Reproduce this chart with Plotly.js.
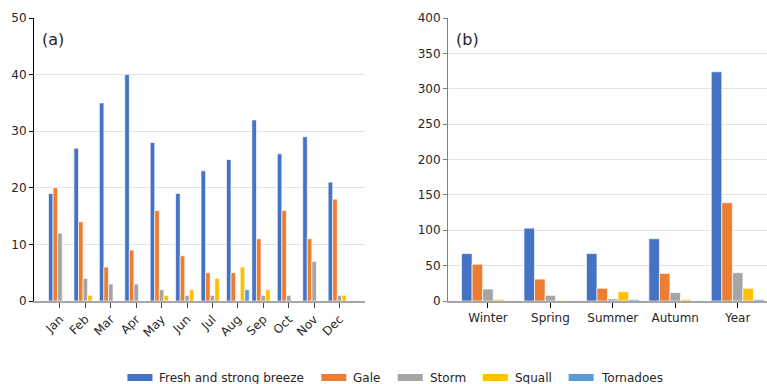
<!DOCTYPE html>
<html>
<head>
<meta charset="utf-8">
<script src="https://cdn.plot.ly/plotly-3.0.1.min.js"></script>
<style>
  html, body { margin: 0; padding: 0; background: #fff; }
  #chart { width: 767px; height: 384px; }
</style>
</head>
<body>
<div id="chart"></div>
<script>
// Monthly counts of wind events (panel a)
const months = ['Jan', 'Feb', 'Mar', 'Apr', 'May', 'Jun', 'Jul', 'Aug', 'Sep', 'Oct', 'Nov', 'Dec'];
const breezeMonthly  = [19, 27, 35, 40, 28, 19, 23, 25, 32, 26, 29, 21];
const galeMonthly    = [20, 14, 6, 9, 16, 8, 5, 5, 11, 16, 11, 18];
const stormMonthly   = [12, 4, 3, 3, 2, 1, 1, 0, 1, 1, 7, 1];
const squallMonthly  = [0, 1, 0, 0, 1, 2, 4, 6, 2, 0, 0, 1];
const tornadoMonthly = [0, 0, 0, 0, 0, 0, 0, 2, 0, 0, 0, 0];

// Seasonal and annual totals (panel b)
const seasons = ['Winter', 'Spring', 'Summer', 'Autumn', 'Year'];
const breezeSeasonal  = [67, 103, 67, 88, 324];
const galeSeasonal    = [52, 31, 18, 39, 139];
const stormSeasonal   = [17, 8, 3, 12, 40];
const squallSeasonal  = [2, 1, 13, 2, 18];
const tornadoSeasonal = [0, 0, 2, 0, 2];

const seriesNames = ['Fresh and strong breeze', 'Gale', 'Storm', 'Squall', 'Tornadoes'];
const seriesColors = ['#4472C4', '#ED7D31', '#A5A5A5', '#FFC000', '#5B9BD5'];

const monthlySeries = [breezeMonthly, galeMonthly, stormMonthly, squallMonthly, tornadoMonthly];
const seasonalSeries = [breezeSeasonal, galeSeasonal, stormSeasonal, squallSeasonal, tornadoSeasonal];

const W = 767, H = 384;
const FONT = '"DejaVu Sans", Verdana, sans-serif';
const TEXT = '#262626';

// pixel helpers (margins are zero, so paper coords map straight to pixels)
const px = x => x / W;
const py = y => 1 - y / H;

// grouped bars laid out explicitly so each panel can have its own group width
function groupTraces(cats, series, groupWidth, xa, ya) {
  const n = series.length;
  const slot = groupWidth / n;
  return series.map((vals, i) => ({
    type: 'bar',
    x: cats,
    y: vals,
    xaxis: xa,
    yaxis: ya,
    name: seriesNames[i],
    showlegend: false,
    width: slot,
    offset: -groupWidth / 2 + i * slot,
    marker: { color: seriesColors[i], line: { color: 'rgba(255,255,255,0.85)', width: 0.8 } },
    hoverinfo: 'x+y+name'
  }));
}

const traces = [
  ...groupTraces(months, monthlySeries, 0.9, 'x', 'y'),
  ...groupTraces(seasons, seasonalSeries, 0.845, 'x2', 'y2')
];

const yDomain = [py(301), py(18)];

const baseX = {
  type: 'category',
  showline: true, linecolor: '#a6a6a6', linewidth: 1.5,
  ticks: 'outside', ticklen: 5, tickcolor: '#404040', tickwidth: 1,
  showgrid: false, zeroline: false,
  tickfont: { family: FONT, size: 12, color: TEXT }
};
const baseY = {
  showline: true, linewidth: 1,
  ticks: 'outside', ticklen: 4, tickwidth: 1,
  showgrid: true, gridcolor: '#e3e3e3', gridwidth: 1,
  zeroline: false,
  tickfont: { family: FONT, size: 12, color: TEXT },
  domain: yDomain
};

// hand-built legend: wide flat swatches followed by labels
const shapes = [];
const annotations = [
  { text: '(a)', xref: 'paper', yref: 'paper', x: px(40), y: py(40), xanchor: 'left', yanchor: 'middle',
    showarrow: false, font: { family: FONT, size: 16, color: TEXT } },
  { text: '(b)', xref: 'paper', yref: 'paper', x: px(454), y: py(40), xanchor: 'left', yanchor: 'middle',
    showarrow: false, font: { family: FONT, size: 16, color: TEXT } }
];

const ctx = document.createElement('canvas').getContext('2d');
ctx.font = '12px ' + FONT;
const swatchW = 25, swatchH = 7, textGap = 6, itemGap = 18, legendY = 377.5;
const widths = seriesNames.map(s => ctx.measureText(s).width);
const total = widths.reduce((a, w) => a + w + swatchW + textGap, 0) + itemGap * (seriesNames.length - 1);
let lx = 394 - total / 2;
seriesNames.forEach((name, i) => {
  shapes.push({
    type: 'rect', xref: 'paper', yref: 'paper',
    x0: px(lx), x1: px(lx + swatchW), y0: py(legendY + swatchH / 2), y1: py(legendY - swatchH / 2),
    fillcolor: seriesColors[i], line: { width: 0 }
  });
  annotations.push({
    text: name, xref: 'paper', yref: 'paper', x: px(lx + swatchW + textGap), y: py(legendY),
    xanchor: 'left', yanchor: 'middle', showarrow: false, borderpad: 0,
    font: { family: FONT, size: 12, color: TEXT }
  });
  lx += swatchW + textGap + widths[i] + itemGap;
});

const layout = {
  width: W, height: H,
  margin: { l: 0, r: 0, t: 0, b: 0 },
  paper_bgcolor: '#fff', plot_bgcolor: '#fff',
  barmode: 'overlay',
  showlegend: false,
  font: { family: FONT, size: 12, color: TEXT },
  xaxis: Object.assign({}, baseX, {
    domain: [px(34), px(365)], anchor: 'y',
    range: [-1.02, 12], tickangle: -45
  }),
  yaxis: Object.assign({}, baseY, {
    anchor: 'x', range: [0, 50], dtick: 10,
    linecolor: '#000', tickcolor: '#000'
  }),
  xaxis2: Object.assign({}, baseX, {
    domain: [px(448), 1], anchor: 'y2',
    range: [-0.64, 4.47], tickangle: 0, tickcolor: '#000'
  }),
  yaxis2: Object.assign({}, baseY, {
    anchor: 'x2', range: [0, 400], dtick: 50,
    linecolor: '#7f7f7f', tickcolor: '#7f7f7f'
  }),
  shapes: shapes,
  annotations: annotations
};

Plotly.newPlot('chart', traces, layout, { staticPlot: true, displayModeBar: false });
</script>
</body>
</html>
